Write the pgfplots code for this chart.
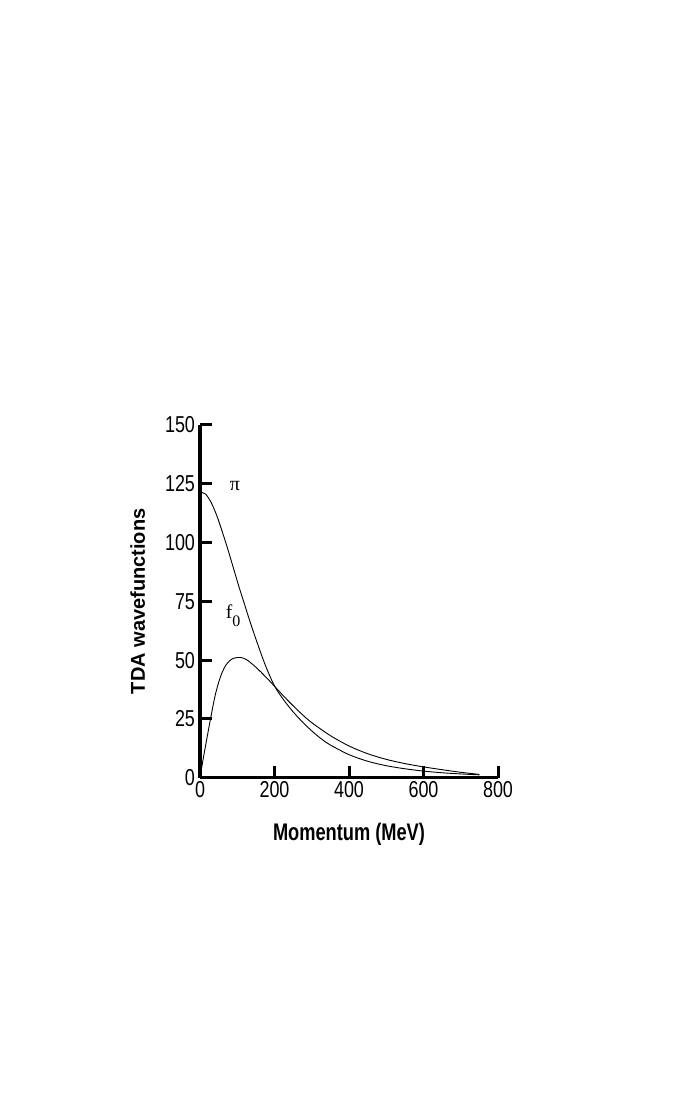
\documentclass[border=0pt]{standalone}
\usepackage{fontspec}
\setmainfont{Liberation Sans}
\newfontfamily\tickfont[FakeStretch=0.78]{Liberation Sans}
\newfontfamily\labfont[FakeStretch=0.76]{Liberation Sans}
\newfontfamily\ylabfont{Liberation Sans}
\newfontfamily\serifgr{Liberation Serif}
\usepackage{pgfplots}
\pgfplotsset{compat=1.18}
\pgfplotstableread{
x y
0 121.5
15 120.6
30 117.0
45 111.5
60 104.5
75 97
90 89
105 81
120 73.5
135 66
150 59
175 48
200 39
225 33
250 28
275 23.7
300 19.9
325 16.6
350 13.9
400 9.8
450 7.0
500 5.1
550 3.8
600 2.8
650 2.1
700 1.6
750 1.2
}\pitable
\pgfplotstableread{
x y
0 0
5 4.7
10 9.3
20 18
30 26.5
40 34.5
50 40.5
60 45
70 48
80 49.8
90 50.8
100 51.1
110 51.1
125 50.2
150 47
175 43.1
200 38.9
225 34.6
250 30.6
275 26.8
300 23.4
350 17.9
400 13.5
450 10.2
500 7.8
550 6.0
600 4.6
650 3.4
700 2.3
750 1.4
}\fotable
\begin{document}
\begin{tikzpicture}
\path[use as bounding box] (0,0) rectangle (692pt,1107pt);
\begin{axis}[
 at={(200pt,329.3pt)}, anchor=south west,
 scale only axis, width=298pt, height=352.7pt,
 xmin=0, xmax=800, ymin=0, ymax=150,
 axis x line=bottom, axis y line=left,
 axis line style={-, line width=3.2pt, black},
 every outer x axis line/.append style={-, line width=3.2pt},
 every outer y axis line/.append style={-, line width=3.2pt},
 xtick={0,200,...,800}, ytick={0,25,...,150},
 tick align=inside, major tick length=12pt,
 tick style={line width=3pt, black},
 minor tick num=0,
 /pgf/number format/assume math mode=true,
 tick label style={font=\tickfont\fontsize{23}{23}\selectfont},
 yticklabel style={xshift=-1.5pt},
 xlabel={Momentum (MeV)},
 xlabel style={font=\labfont\bfseries\fontsize{24}{24}\selectfont, at={(axis description cs:0.5,-0.1786)}, anchor=base},
 ylabel={TDA wavefunctions},
 ylabel style={font=\ylabfont\bfseries\fontsize{20}{20}\selectfont, at={(axis description cs:-0.1846,0.5)}, anchor=base},
 clip=false,
]
\addplot[black, line width=0.9pt, smooth, no markers] table[x=x,y=y] {\pitable};
\addplot[black, line width=0.9pt, smooth, no markers] table[x=x,y=y] {\fotable};
\node[inner sep=0pt] at (axis cs:94,123.9) {\serifgr\fontsize{20}{20}\selectfont π};
\node[inner sep=0pt] at (axis cs:88.6,68.9) {\serifgr\fontsize{19.5}{19.5}\selectfont f\raisebox{-7.7pt}{\fontsize{16}{16}\selectfont 0}};
\end{axis}
\end{tikzpicture}
\end{document}
